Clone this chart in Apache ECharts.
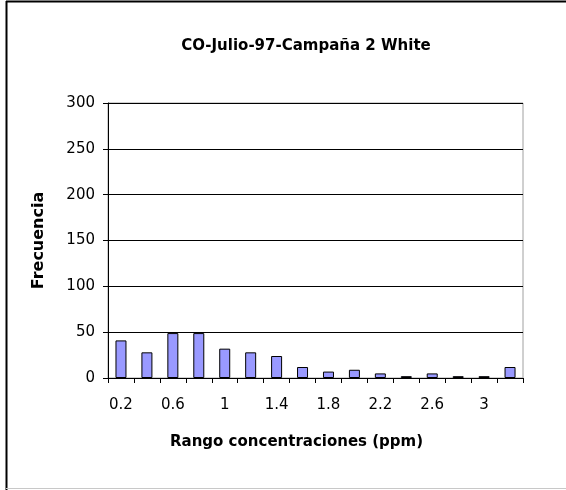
<!DOCTYPE html>
<html>
<head>
<meta charset="utf-8">
<script src="https://cdn.jsdelivr.net/npm/echarts@6/dist/echarts.min.js"></script>
<style>
html,body{margin:0;padding:0;background:#fff;}
#chart{width:566px;height:490px;}
</style>
</head>
<body>
<div id="chart"></div>
<script>
var categories = ['0.2','0.4','0.6','0.8','1','1.2','1.4','1.6','1.8','2','2.2','2.4','2.6','2.8','3','3.2'];
var frecuencia = [41,28,49,49,32,28,24,12,7,9,5,2,5,2,2,12];
var yTicks = { min: 0, max: 300, interval: 50 };
var titleText = 'CO-Julio-97-Campaña 2 White';
var xName = 'Rango concentraciones (ppm)';
var yName = 'Frecuencia';

var font = '"DejaVu Sans", Verdana, sans-serif';
var chart = echarts.init(document.getElementById('chart'), null, {renderer:'canvas'});
chart.setOption({
  animation: false,
  backgroundColor: '#fff',
  title: {
    text: titleText,
    left: 301, top: 34,
    textAlign: 'center',
    textStyle: { fontFamily: font, fontSize: 15, fontWeight: 'bold', color: '#000' }
  },
  grid: {
    left: 108, right: 43, top: 103, bottom: 112,
    show: true, borderColor: '#a0a0a0', borderWidth: 1, backgroundColor: 'transparent'
  },
  xAxis: {
    type: 'category',
    data: categories,
    boundaryGap: true,
    axisLine: { lineStyle: { color: '#000', width: 1 } },
    axisTick: { show: true, interval: 0, length: 5, lineStyle: { color: '#000' } },
    axisLabel: { interval: 1, margin: 20, fontFamily: font, fontSize: 15, color: '#000' },
    splitLine: { show: false }
  },
  yAxis: {
    type: 'value',
    min: yTicks.min, max: yTicks.max, interval: yTicks.interval,
    name: yName,
    nameLocation: 'middle',
    nameGap: 61,
    nameRotate: 90,
    nameTextStyle: { fontFamily: font, fontSize: 16, fontWeight: 'bold', color: '#000' },
    axisLine: { show: true, lineStyle: { color: '#000', width: 1 } },
    axisTick: { show: true, length: 5, lineStyle: { color: '#000' } },
    axisLabel: { margin: 13, fontFamily: font, fontSize: 15, color: '#000' },
    splitLine: { show: true, lineStyle: { color: '#000', width: 1 } }
  },
  series: [{
    type: 'bar',
    data: frecuencia,
    barWidth: 11,
    itemStyle: { color: '#9999ff', borderColor: '#000', borderWidth: 1 }
  }],
  graphic: [
    { type: 'text', left: 170, top: 435,
      style: { text: xName, fontFamily: font, fontSize: 15, fontWeight: 'bold', fill: '#000' } },
    { type: 'line', shape: { x1: 6.5, y1: 1, x2: 6.5, y2: 490 }, style: { stroke: '#000', lineWidth: 2 } },
    { type: 'line', shape: { x1: 6, y1: 1.5, x2: 566, y2: 1.5 }, style: { stroke: '#000', lineWidth: 2 } },
    { type: 'line', shape: { x1: 6, y1: 488.5, x2: 566, y2: 488.5 }, style: { stroke: '#c8c8c8', lineWidth: 1 } }
  ]
});
</script>
</body>
</html>
